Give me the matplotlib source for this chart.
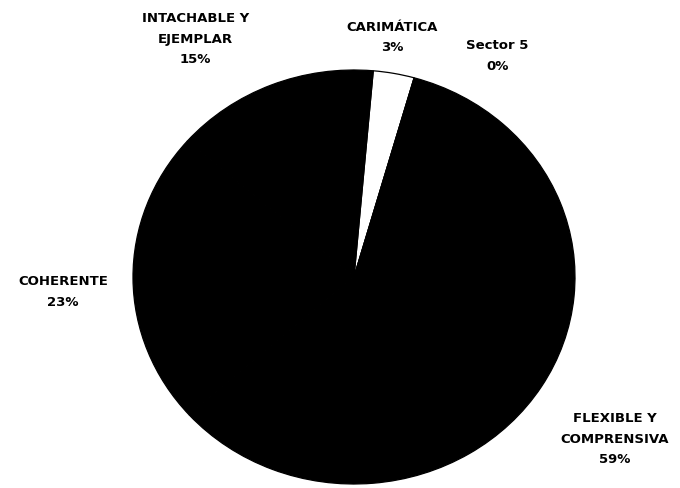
"""
Pie chart: personality traits (black & white, Excel style)
"""

import matplotlib
matplotlib.use('Agg')
import matplotlib.pyplot as plt

# Data (clockwise from top)
categories = ['CARIMÁTICA', 'Sector 5', 'FLEXIBLE Y\nCOMPRENSIVA', 'COHERENTE',
              'INTACHABLE Y\nEJEMPLAR']
values = [3, 0, 59, 23, 15]
colors = ['white', 'black', 'black', 'black', 'black']

# Label placement in figure fractions (manually placed as in the original)
label_pos = [(0.577, 0.923), (0.731, 0.885), (0.904, 0.102), (0.093, 0.403),
             (0.287, 0.920)]

W, H = 680, 489
fig = plt.figure(figsize=(W / 100, H / 100), dpi=100)
fig.patch.set_facecolor('white')

# pie slightly stretched horizontally, as in the scan
cx, cy, rx, ry = 354, 278, 221, 207
ax = fig.add_axes([(cx - rx) / W, (H - cy - ry) / H, 2 * rx / W, 2 * ry / H])

wedges, _ = ax.pie(values, colors=colors, startangle=85, counterclock=False,
                   wedgeprops=dict(edgecolor='black', linewidth=0.9))
ax.set_aspect('auto')
ax.set_xlim(-1, 1)
ax.set_ylim(-1, 1)
ax.axis('off')

for name, val, (x, y) in zip(categories, values, label_pos):
    fig.text(x, y, f"{name}\n{val}%", ha='center', va='center',
             fontsize=9.5, fontweight='bold', family='DejaVu Sans',
             linespacing=1.75, color='black')

plt.savefig('out.png', dpi=100, facecolor='white')
plt.close()
